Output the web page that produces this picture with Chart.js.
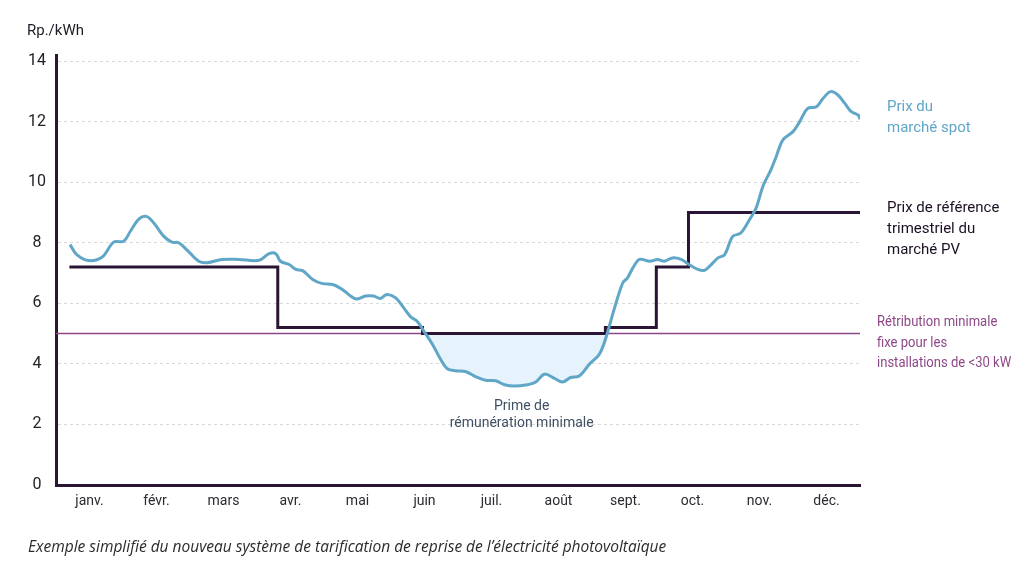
<!DOCTYPE html>
<html>
<head>
<meta charset="utf-8">
<script src="https://cdn.jsdelivr.net/npm/chart.js@4.4.1/dist/chart.umd.min.js"></script>
<style>
  html, body { margin: 0; padding: 0; background: #ffffff; }
  #wrap { position: relative; width: 1024px; height: 575px; }
  canvas { display: block; }
</style>
</head>
<body>
<div id="wrap"><canvas id="c" width="1024" height="575"></canvas></div>
<script>
// ---------- DATA ----------
const months = ['janv.', 'févr.', 'mars', 'avr.', 'mai', 'juin', 'juil.', 'août', 'sept.', 'oct.', 'nov.', 'déc.'];
const yTickValues = [0, 2, 4, 6, 8, 10, 12, 14];

// Spot market price (Rp./kWh), x in months from start of year
const spotX = [0.21,0.31,0.49,0.69,0.86,1.01,1.11,1.24,1.35,1.46,
  1.61,1.73,1.83,1.96,2.13,2.26,2.48,2.73,3.03,3.18,
  3.28,3.35,3.48,3.58,3.68,3.83,3.98,4.13,4.27,4.47,
  4.62,4.74,4.84,4.94,5.07,5.19,5.29,5.39,5.49,5.62,
  5.74,5.84,5.96,6.11,6.26,6.41,6.56,6.71,6.84,7.01,
  7.16,7.29,7.44,7.56,7.68,7.81,7.96,8.11,8.21,8.33,
  8.46,8.53,8.61,8.71,8.86,8.98,9.08,9.20,9.33,9.45,
  9.58,9.68,9.78,9.88,9.98,10.10,10.22,10.35,10.45,10.55,
  10.67,10.75,10.85,11.00,11.10,11.22,11.35,11.45,11.56,11.67,
  11.77,11.87,11.97,12.00];
const spotY = [7.94,7.61,7.41,7.53,8.02,8.05,8.38,8.79,8.87,8.65,
  8.21,8.02,8.00,7.75,7.39,7.34,7.45,7.45,7.42,7.64,
  7.64,7.39,7.28,7.12,7.08,6.79,6.65,6.62,6.46,6.15,
  6.24,6.24,6.16,6.29,6.18,5.85,5.56,5.41,5.08,4.64,
  4.15,3.84,3.77,3.75,3.58,3.46,3.44,3.30,3.27,3.30,
  3.40,3.66,3.52,3.40,3.55,3.60,3.99,4.32,4.88,5.80,
  6.68,6.84,7.17,7.45,7.39,7.45,7.39,7.50,7.45,7.28,
  7.12,7.09,7.28,7.50,7.61,8.21,8.32,8.76,9.15,9.86,
  10.41,10.85,11.40,11.67,12.00,12.44,12.49,12.77,12.99,12.88,
  12.61,12.33,12.22,12.08];

// Quarterly PV reference price: breakpoints (months) and levels between them
const refBreaks = [0.20, 3.31, 5.47, 8.20, 8.96, 9.44, 12.0];
const refLevels = [7.2, 5.2, 5.0, 5.2, 7.2, 9.0];

// Fixed minimum remuneration (< 30 kW)
const minRemuneration = 5.0;
const minRange = [0, 12];

// ---------- DERIVED ----------
const spotPoints = spotX.map((x, i) => ({ x: x, y: spotY[i] }));
const refPoints = [];
refLevels.forEach((lvl, i) => {
  refPoints.push({ x: refBreaks[i], y: lvl });
  refPoints.push({ x: refBreaks[i + 1], y: lvl });
});
const minPoints = minRange.map(x => ({ x: x, y: minRemuneration }));

const COL_SPOT = '#5fa6c7';
const COL_REF = '#2b1535';
const COL_MIN = '#8e4786';
const COL_FILL = '#e6f2fc';

function condensedText(ctx, text, x, y, sx) {
  ctx.save();
  ctx.translate(x, y);
  ctx.scale(sx, 1);
  ctx.fillText(text, 0, 0);
  ctx.restore();
}

const textPlugin = {
  id: 'texts',
  afterDraw(chart) {
    const ctx = chart.ctx;
    const ca = chart.chartArea;
    const xs = chart.scales.x, ys = chart.scales.y;
    ctx.save();
    ctx.textBaseline = 'middle';
    // unit label
    ctx.fillStyle = '#1f1b26';
    ctx.textAlign = 'left';
    ctx.font = '15px Roboto';
    ctx.fillText('Rp./kWh', 27, 31);

    // right-side series labels
    const lx = ca.right + 27;
    ctx.font = '15px Roboto';
    ctx.fillStyle = COL_SPOT;
    ctx.fillText('Prix du', lx, 107);
    ctx.fillText('marché spot', lx, 128);

    ctx.fillStyle = '#1c1023';
    ctx.fillText('Prix de référence', lx, 208);
    ctx.fillText('trimestriel du', lx, 229);
    ctx.fillText('marché PV', lx, 250);

    ctx.fillStyle = COL_MIN;
    ctx.font = '15px Roboto';
    const mx = ca.right + 17;
    const my = ys.getPixelForValue(minRemuneration);
    condensedText(ctx, 'Rétribution minimale', mx, my - 11, 0.87);
    condensedText(ctx, 'fixe pour les', mx, my + 10, 0.87);
    condensedText(ctx, 'installations de <30 kW', mx, my + 30, 0.87);

    // area annotation
    ctx.fillStyle = '#3f5063';
    ctx.font = '14px Roboto';
    ctx.textAlign = 'center';
    const ax = xs.getPixelForValue(6.95);
    ctx.fillText('Prime de', ax, 406);
    ctx.fillText('rémunération minimale', ax, 423);

    // caption
    ctx.textAlign = 'left';
    ctx.fillStyle = '#2b2b2b';
    ctx.font = 'italic 15.5px "Open Sans"';
    ctx.fillText('Exemple simplifié du nouveau système de tarification de reprise de l’électricité photovoltaïque', 28, 548);
    ctx.restore();
  }
};

new Chart(document.getElementById('c'), {
  type: 'line',
  data: {
    datasets: [
      {
        label: 'Prix du marché spot',
        data: spotPoints,
        borderColor: COL_SPOT,
        borderWidth: 3,
        pointRadius: 0,
        tension: 0.35,
        order: 0,
        fill: { target: { value: minRemuneration }, above: 'rgba(0,0,0,0)', below: COL_FILL }
      },
      {
        label: 'Prix de référence trimestriel du marché PV',
        data: refPoints,
        borderColor: COL_REF,
        borderWidth: 3,
        pointRadius: 0,
        tension: 0,
        borderJoinStyle: 'miter',
        order: 1,
        fill: false
      },
      {
        label: 'Rétribution minimale',
        data: minPoints,
        borderColor: COL_MIN,
        borderWidth: 1.5,
        pointRadius: 0,
        order: 2,
        fill: false
      }
    ]
  },
  options: {
    responsive: false,
    animation: false,
    devicePixelRatio: 1,
    layout: { padding: { top: 55, right: 164, left: 0, bottom: 0 } },
    plugins: {
      legend: { display: false },
      tooltip: { enabled: false },
      filler: { drawTime: 'beforeDatasetsDraw' }
    },
    scales: {
      x: {
        type: 'linear',
        min: 0,
        max: 12,
        afterBuildTicks(scale) {
          scale.ticks = months.map((m, i) => ({ value: i + 0.5 }));
        },
        afterFit(scale) { scale.height = 90; },
        ticks: {
          autoSkip: false,
          maxRotation: 0,
          padding: 8,
          color: '#2a2a30',
          font: { family: 'Roboto', size: 14 },
          callback: (v) => months[Math.floor(v)]
        },
        grid: { display: false, drawTicks: false },
        border: { display: true, color: COL_REF, width: 3 }
      },
      y: {
        type: 'linear',
        min: 0,
        max: 14.2,
        afterBuildTicks(scale) {
          scale.ticks = yTickValues.map(v => ({ value: v }));
        },
        afterFit(scale) { scale.width = 56; },
        ticks: {
          padding: 10,
          crossAlign: 'center',
          color: '#222228',
          font: { family: 'Roboto', size: 16 },
          callback: (v) => String(v)
        },
        grid: {
          color: (c) => (c.tick && c.tick.value === 0) ? 'rgba(0,0,0,0)' : '#d9d9d9',
          lineWidth: 1,
          drawTicks: false
        },
        border: { display: true, color: COL_REF, width: 3, dash: [3, 3] }
      }
    }
  },
  plugins: [textPlugin]
});
</script>
</body>
</html>
